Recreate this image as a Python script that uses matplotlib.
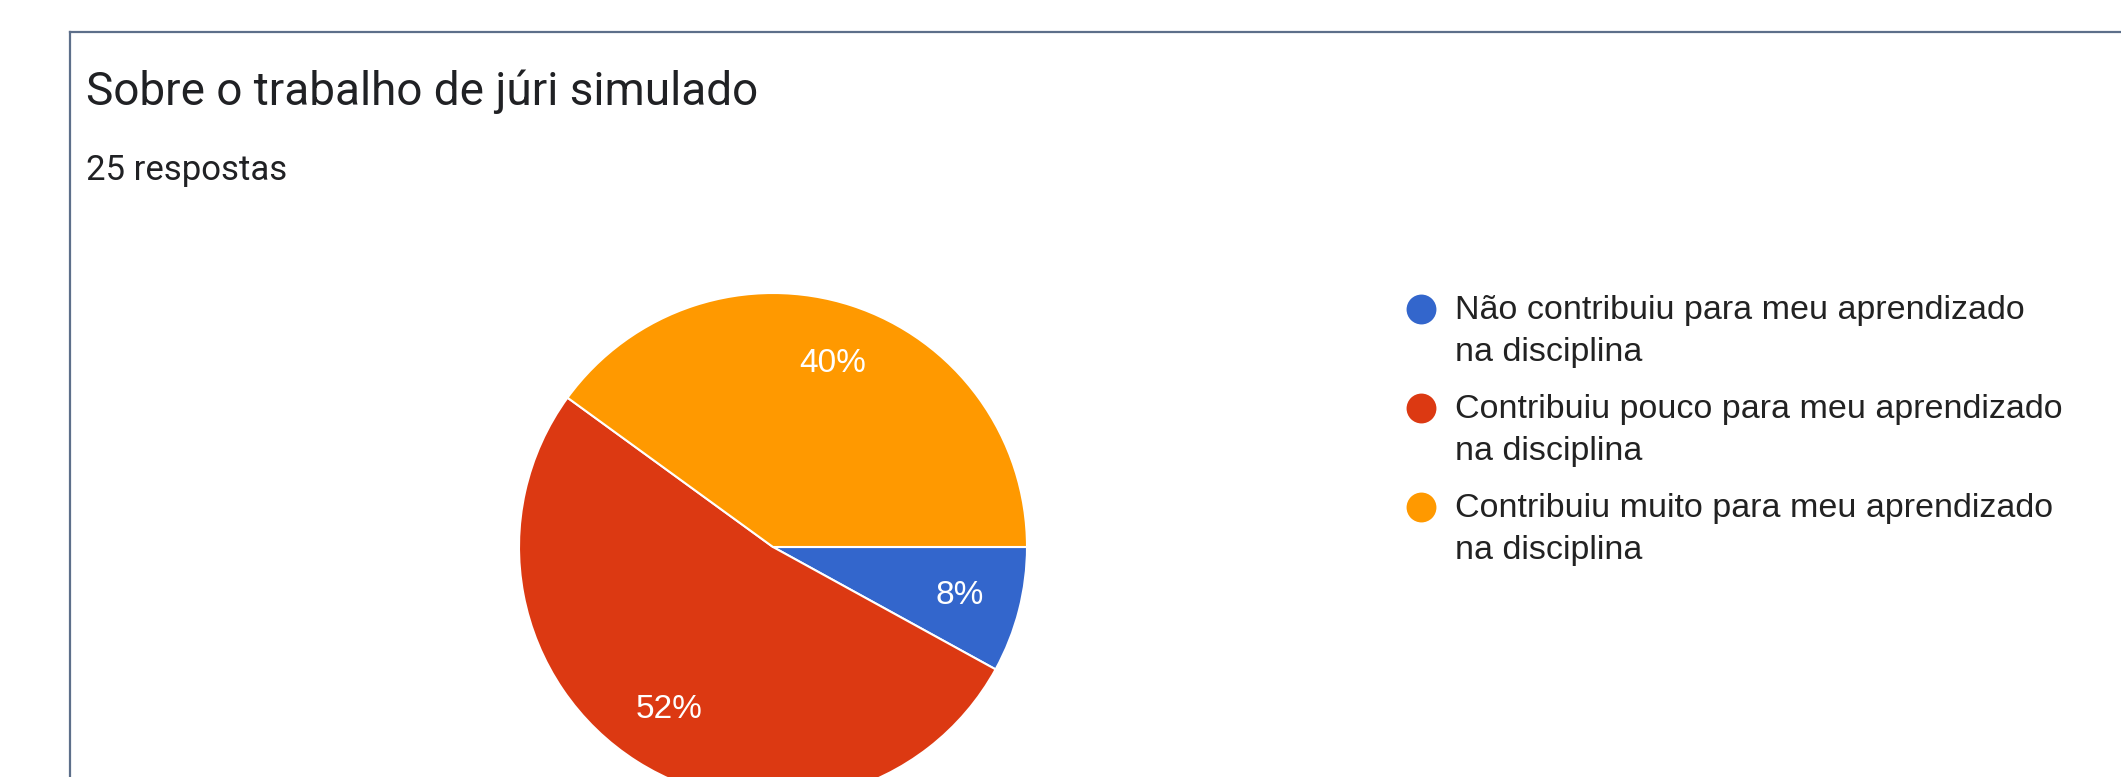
import matplotlib
matplotlib.use("Agg")
import matplotlib.pyplot as plt
from matplotlib.lines import Line2D

# survey answers (25 respostas)
categories = [
    "Não contribuiu para meu aprendizado\nna disciplina",
    "Contribuiu pouco para meu aprendizado\nna disciplina",
    "Contribuiu muito para meu aprendizado\nna disciplina",
]
counts = [2, 13, 10]
colors = ["#3366CC", "#DC3912", "#FF9900"]

title = "Sobre o trabalho de júri simulado"
subtitle = "25 respostas"

W, H = 2121, 777


def main():
    fig = plt.figure(figsize=(W / 100, H / 100), dpi=100)
    fig.patch.set_facecolor("white")

    # one axes over the whole figure, 1 data unit = 1 pixel
    ax = fig.add_axes([0, 0, 1, 1])
    wedges, texts, autotexts = ax.pie(
        counts,
        colors=colors,
        startangle=0,
        counterclock=False,
        center=(773, H - 547),
        radius=254,
        autopct=lambda p: "%.0f%%" % p,
        pctdistance=0.76,
        wedgeprops=dict(edgecolor="white", linewidth=1.5),
        textprops=dict(color="white", fontsize=24, family="Liberation Sans"),
    )
    ax.set_xlim(0, W)
    ax.set_ylim(0, H)
    ax.set_aspect("equal")
    ax.axis("off")

    # card border (top and left edge)
    border = "#5d6f8a"
    fig.add_artist(Line2D([70 / W, 1], [1 - 32 / H, 1 - 32 / H], color=border, lw=1.6))
    fig.add_artist(Line2D([70 / W, 70 / W], [0, 1 - 32 / H], color=border, lw=1.6))

    fig.text(86 / W, 1 - 105 / H, title, fontsize=33, family="Roboto",
             color="#202124", va="baseline", ha="left")
    fig.text(86 / W, 1 - 180 / H, subtitle, fontsize=25, family="Roboto",
             color="#202124", va="baseline", ha="left")

    # legend: dot + two-line label per category
    for i, (label, col) in enumerate(zip(categories, colors)):
        dot_y = 309 + 99 * i
        ax.plot([1421], [H - dot_y], "o", color=col, markersize=21.5,
                markeredgewidth=0)
        for j, line in enumerate(label.split("\n")):
            base = 319 + 99 * i + 42 * j
            fig.text(1455 / W, 1 - base / H, line, fontsize=24.5,
                     family="Liberation Sans", color="#222222",
                     va="baseline", ha="left")

    fig.savefig("out.png", dpi=100)


if __name__ == "__main__":
    main()
